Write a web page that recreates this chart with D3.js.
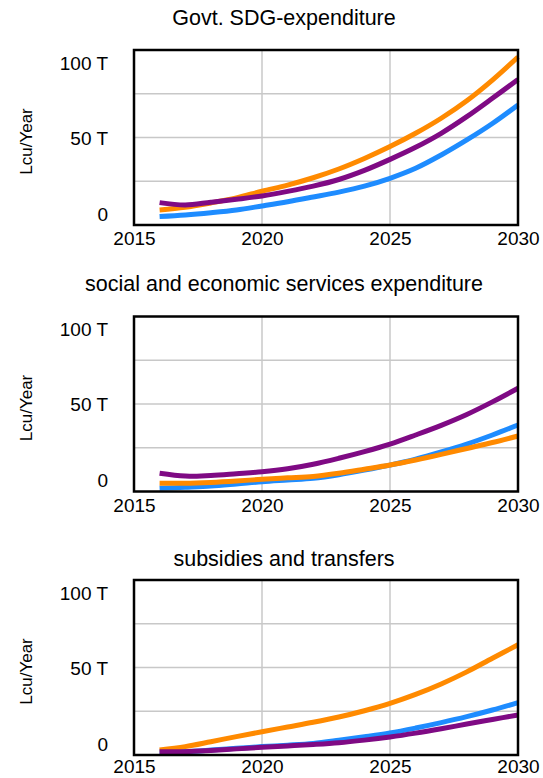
<!DOCTYPE html>
<html>
<head>
<meta charset="utf-8">
<script src="https://cdn.jsdelivr.net/npm/d3@7"></script>
<style>
  body { margin: 0; background: #fff; }
  svg text { font-family: "Liberation Sans", Arial, Helvetica, sans-serif; fill: #000; }
</style>
</head>
<body>
<script>
// three Vensim-style panels, values in T (trillion) lcu per year

var years = [2016, 2017, 2018, 2019, 2020, 2021, 2022, 2023, 2024, 2025, 2026, 2027, 2028, 2029, 2030];
var xTicks = [2015, 2020, 2025, 2030];
var yTicks = [0, 50, 100];
var titles = ["Govt. SDG-expenditure", "social and economic services expenditure", "subsidies and transfers"];
var yLabel = "Lcu/Year";

// panel 1
var sdgBlue   = [4.8, 5.7, 7.0, 8.6, 10.9, 13.3, 16.0, 18.8, 22.2, 26.7, 32.4, 40.0, 48.6, 58.0, 68.6];
var sdgOrange = [8.6, 10.1, 12.6, 15.5, 19.3, 22.8, 27.0, 32.0, 38.0, 44.8, 52.4, 61.0, 71.0, 82.8, 96.0];
var sdgPurple = [12.8, 11.4, 13.0, 14.7, 16.6, 19.2, 22.2, 26.0, 31.2, 37.5, 44.4, 52.4, 61.9, 72.4, 83.2];

// panel 2
var sesBlue   = [1.8, 2.4, 3.1, 4.3, 5.6, 6.6, 7.6, 9.6, 12.2, 15.1, 18.5, 22.6, 27.1, 32.3, 38.0];
var sesOrange = [4.7, 4.7, 5.2, 6.0, 7.0, 7.8, 8.6, 10.4, 12.7, 15.1, 18.0, 21.2, 24.6, 28.0, 31.7];
var sesPurple = [10.4, 8.8, 9.2, 10.2, 11.3, 13.0, 15.6, 19.0, 22.8, 27.1, 32.3, 37.8, 44.0, 51.2, 59.0];

// panel 3
var subBlue   = [1.9, 2.0, 2.8, 3.8, 4.8, 5.6, 6.6, 8.4, 10.4, 12.6, 15.4, 18.5, 21.9, 25.7, 29.9];
var subOrange = [2.9, 4.8, 7.6, 10.5, 13.3, 16.0, 18.7, 21.7, 25.3, 29.5, 34.6, 40.6, 47.5, 55.3, 63.0];
var subPurple = [1.9, 1.9, 2.6, 3.5, 4.4, 5.2, 6.0, 7.0, 8.5, 10.3, 12.5, 15.0, 17.7, 20.3, 22.9];

var col = ["#1e8cff", "#ff8a00", "#7f0a84"];

var panels = [
  [sdgBlue, sdgOrange, sdgPurple],
  [sesBlue, sesOrange, sesPurple],
  [subBlue, subOrange, subPurple]
];

var width = 543;
var height = 778;
var left = 134, right = 518;
var tops = [50, 316.5, 580];
var plotH = 175;
var titleX = 284;
var titleY = [25, 291, 566];

var svg = d3.select("body")
  .append("svg")
  .attr("width", width)
  .attr("height", height);

var x = d3.scaleLinear()
  .domain([2015, 2030])
  .range([left, right]);

panels.forEach(function(series, p) {
  var top = tops[p];

  var y = d3.scaleLinear()
    .domain([0, 100])
    .range([top + plotH, top]);

  var g = svg.append("g");

  // grid
  g.selectAll(".vgrid")
    .data([2020, 2025])
    .enter().append("line")
    .attr("x1", function(d) { return x(d); })
    .attr("x2", function(d) { return x(d); })
    .attr("y1", top)
    .attr("y2", top + plotH)
    .attr("stroke", "#c8c8c8")
    .attr("stroke-width", 1.5);

  g.selectAll(".hgrid")
    .data([25, 50, 75])
    .enter().append("line")
    .attr("x1", left)
    .attr("x2", right)
    .attr("y1", function(d) { return y(d); })
    .attr("y2", function(d) { return y(d); })
    .attr("stroke", "#c8c8c8")
    .attr("stroke-width", 1.5);

  var line = d3.line()
    .x(function(d, i) { return x(years[i]); })
    .y(function(d) { return y(d); })
    .curve(d3.curveCatmullRom);

  series.forEach(function(vals, i) {
    g.append("path")
      .datum(vals)
      .attr("fill", "none")
      .attr("stroke", col[i])
      .attr("stroke-width", 5)
      .attr("stroke-linejoin", "round")
      .attr("d", line);
  });

  // frame
  g.append("rect")
    .attr("x", left)
    .attr("y", top)
    .attr("width", right - left)
    .attr("height", plotH)
    .attr("fill", "none")
    .attr("stroke", "#000")
    .attr("stroke-width", 2.5);

  // axes
  var xa = g.append("g")
    .attr("transform", "translate(0," + (top + plotH) + ")")
    .call(d3.axisBottom(x).tickValues(xTicks).tickFormat(d3.format("d")).tickSize(0).tickPadding(p == 2 ? 5 : 7));
  xa.select(".domain").remove();
  xa.selectAll("text").style("font-size", "19px");

  var ya = g.append("g")
    .attr("transform", "translate(" + (left - 26) + ",0)")
    .call(d3.axisLeft(y).tickValues(yTicks).tickFormat(function(d) { return d == 0 ? "0" : d + " T"; }).tickSize(0).tickPadding(0));
  ya.select(".domain").remove();
  ya.selectAll("text")
    .style("font-size", "19px")
    .attr("dy", function(d) { return d == 100 ? "1.0em" : d == 0 ? "-0.25em" : "0.35em"; });

  g.append("text")
    .attr("transform", "translate(32," + (top + plotH / 2 + 4) + ") rotate(-90)")
    .attr("text-anchor", "middle")
    .style("font-size", "17px")
    .text(yLabel);

  g.append("text")
    .attr("x", titleX)
    .attr("y", titleY[p])
    .attr("text-anchor", "middle")
    .style("font-size", "21.5px")
    .text(titles[p]);
});
</script>
</body>
</html>
